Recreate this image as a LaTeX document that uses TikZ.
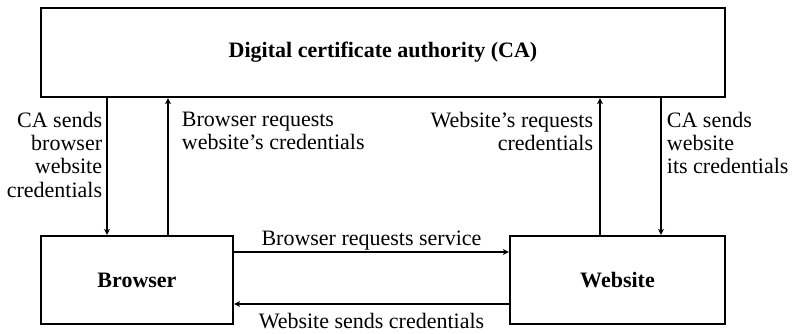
\documentclass[tikz,border=0pt]{standalone}
\usepackage{fontspec}
\setmainfont{Liberation Serif}
\usetikzlibrary{arrows.meta,positioning}

\begin{document}
\begin{tikzpicture}[x=1pt,y=-1pt,->,>={Stealth[length=6pt,width=6pt]},line width=1.8pt,
                    font=\fontsize{22}{23.3}\selectfont]
\tikzstyle{box}=[draw,line width=2.4pt,inner sep=0pt,font=\fontsize{22}{23.3}\selectfont\bfseries]
\tikzstyle{lbl}=[inner sep=0pt]

  \useasboundingbox (0,0) rectangle (796,333);

        \node[box,minimum width=684pt,minimum height=89pt]      (CA)      at (383,52.5)  {Digital certificate authority (CA)};
        \node[box,minimum width=192pt,minimum height=88pt]      (browser) at (137,280)   {Browser};
        \node[box,minimum width=215pt,minimum height=88pt]      (website) at (617.5,280) {Website};

        % where the connectors run
        \coordinate (bd) at (107,0);
        \coordinate (bu) at (168,0);
        \coordinate (wu) at (600,0);
        \coordinate (wd) at (661,0);
        \coordinate (hs) at (0,252);
        \coordinate (hc) at (0,304);

        \node[lbl,anchor=north east,align=right] (l1) at (103,111) {CA sends\\browser\\website\\credentials};
        \node[lbl,anchor=north west,align=left]  (l2) at (181,111) {Browser requests\\website's credentials};
        \node[lbl,anchor=north east,align=right] (l3) at (594,111) {Website's requests\\credentials};
        \node[lbl,anchor=north west,align=left]  (l4) at (666,111) {CA sends\\website\\its credentials};

        \path[->]
        (CA.south -| bd)       edge (browser.north -| bd)
        (browser.north -| bu)  edge (CA.south -| bu)
        (website.north -| wu)  edge (CA.south -| wu)
        (CA.south -| wd)       edge (website.north -| wd)
        (browser.east |- hs)   edge node[above,inner sep=1pt] (s1) {Browser requests service} (website.west |- hs)
        (website.west |- hc)   edge node[below,inner sep=8pt] (s2) {Website sends credentials} (browser.east |- hc)
        ; %end path

\end{tikzpicture}
\end{document}
